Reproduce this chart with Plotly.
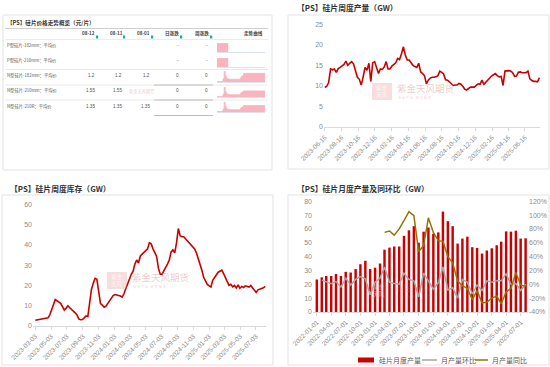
import plotly.graph_objects as go
import pandas as pd

W, H = 550, 367


def px(x):
    return x / W


def py(y):
    return 1 - y / H


# ---------------- data ----------------
weekly_output_start = "2023-06-16"
weekly_output = [9.6, 9.9, 10.8, 14.1, 13.9, 14.1, 13.3, 14.2, 14.5, 14.8,
                 15.2, 16.0, 15.0, 15.5, 15.9, 15.3, 13.8, 12.1, 11.6, 10.2,
                 12.2, 14.5, 13.8, 15.5, 11.1, 15.6, 15.9, 14.2, 13.0, 14.1,
                 14.0, 14.6, 15.9, 14.1, 14.1, 14.8, 15.2, 15.6, 16.7, 16.4,
                 17.8, 19.5, 17.5, 16.3, 16.3, 15.5, 15.0, 14.7, 14.5, 15.5,
                 13.4, 13.0, 12.5, 10.5, 11.4, 11.9, 12.1, 12.1, 12.2, 12.5,
                 13.6, 13.3, 12.9, 11.5, 11.4, 11.0, 10.5, 10.1, 10.2, 10.2,
                 10.6, 10.4, 9.9, 9.2, 9.0, 9.4, 9.7, 9.7, 9.7, 10.1,
                 10.5, 10.4, 11.4, 10.4, 10.9, 11.4, 12.0, 12.4, 12.7, 13.0,
                 12.5, 12.2, 12.3, 10.1, 13.6, 13.7, 13.7, 13.6, 13.2, 12.3,
                 12.4, 13.3, 13.4, 13.2, 13.2, 13.2, 13.6, 11.7, 11.3, 11.1,
                 11.1, 11.0, 12.0]

weekly_inventory_start = "2023-03-03"
weekly_inventory = [2.8, 3.0, 3.2, 3.5, 3.7, 3.6, 3.8, 4.0, 5.5, 8.5,
                    10.5, 13.0, 12.3, 11.8, 11.2, 9.5, 7.8, 8.8, 10.0, 9.0,
                    8.3, 7.5, 6.5, 5.5, 3.5, 3.1, 3.2, 4.0, 5.0, 4.6,
                    13.0, 18.0, 21.0, 23.5, 23.0, 16.0, 11.0, 10.3, 9.3, 9.8,
                    11.0, 12.0, 13.5, 15.0, 15.5, 15.4, 15.0, 14.8, 14.2, 16.0,
                    18.5, 21.5, 24.0, 25.5, 27.0, 30.5, 32.5, 31.0, 34.5, 35.5,
                    36.3, 37.0, 38.0, 41.0, 40.5, 38.0, 36.0, 34.3, 28.5, 25.5,
                    25.5, 27.0, 28.5, 30.5, 32.5, 36.5, 37.5, 36.0, 41.0, 48.0,
                    44.5, 44.0, 44.0, 43.0, 42.2, 41.3, 40.3, 39.5, 38.0, 36.0,
                    33.5, 30.0, 27.5, 24.0, 21.8, 20.5, 19.8, 19.2, 22.5, 24.0,
                    25.5, 26.5, 27.0, 27.5, 25.8, 24.0, 22.2, 20.0, 20.5, 19.3,
                    20.0, 18.7, 20.3, 18.6, 19.5, 19.0, 19.8, 19.5, 19.2, 20.0,
                    19.0, 18.0, 16.5, 17.8, 18.0, 18.5, 18.8, 19.5]

monthly_start = "2022-01-01"
monthly_output = [23.5, 25, 26, 26, 27.5, 26, 29, 28.5, 31, 34.5, 37, 31,
                  32, 35, 45, 46.5, 47.3, 47.3, 55, 59, 62, 50, 58, 61,
                  56.5, 57.5, 72.5, 65.6, 62, 49.4, 53, 54.4, 46.8, 46.3, 42.2, 44.4,
                  46, 48.2, 50.8, 58.2, 58, 58.7, 53, 53.2]
mom_pct = [None, 6, 4, 1, 4, -4, 9, -1, 7, 11, 8, -15,
           3, 9, 25, 3, 1, 0, 16, 7, 5, -18, 16, 5,
           -7, 2, 25, -8, -5, -20, 7, 3, -14, -1, -9, 5,
           3, 5, 5, 15, 0, 1, -9, 0]
yoy_pct = [None] * 14 + [75, 77, 71, 80, 92, 105, 99, 47, 56, 96,
                         75, 63, 62, 40, 31, 5, -2, -6, -22, -9, -27, -26,
                         -20, -17, -28, -11, -6, 17, -1, -3]

legend_names = ["硅片月度产量", "月产量环比", "月产量同比"]

# axis tick values
out_ticks = [0, 5, 10, 15, 20, 25]
inv_ticks = [0, 10, 20, 30, 40, 50, 60]
bar_ticks = [0, 10, 20, 30, 40, 50, 60, 70, 80]
pct_ticks = [-40, -20, 0, 20, 40, 60, 80, 100, 120]

# price table
table_title = "【PS】硅片价格走势概览（元/片）"
table_headers = ["08-12", "08-11", "08-01", "日涨跌", "周涨跌"]
table_spark_header = "走势曲线"
table_rows = ["P型硅片-182mm：平均价", "P型硅片-210mm：平均价",
              "N型硅片-182mm：平均价", "N型硅片-210mm：平均价",
              "N型硅片-210R：平均价"]
table_values = [["", "", "", "-", "-"],
                ["", "", "", "-", "-"],
                ["1.2", "1.2", "1.2", "0", "0"],
                ["1.55", "1.55", "", "0", "0"],
                ["1.35", "1.35", "1.35", "0", "0"]]
spark_p182 = [1, 1, 1, 1, 1, 1, 1, 1, 1, 1, 1, 1]
spark_p210 = [1, 1, 1, 1, 1, 1, 1, 1, 1, 1, 1, 1]
spark_n182 = [0.05, 0.05, 0.05, 0.05, 0.05, 0.08, 0.3, 1.0, 0.6, 0.38, 0.3, 0.27,
              0.26, 0.26, 0.26, 0.26, 0.26, 0.26, 0.26, 0.26, 0.26, 0.26, 0.26,
              0.4, 0.55, 0.55, 0.8, 0.8, 0.8, 0.8, 0.8, 0.8, 0.8, 0.8, 0.8, 0.8,
              0.8, 0.8, 0.8, 0.8, 0.8, 0.8, 0.8, 0.8, 0.8, 0.8, 0.8, 0.8]
spark_n210 = [0.05, 0.05, 0.05, 0.05, 0.05, 0.08, 0.3, 1.0, 0.55, 0.35, 0.28, 0.25,
              0.24, 0.24, 0.24, 0.24, 0.24, 0.24, 0.24, 0.24, 0.24, 0.24, 0.24,
              0.4, 0.5, 0.5, 0.62, 0.62, 0.62, 0.62, 0.62, 0.62, 0.62, 0.62, 0.62,
              0.62, 0.62, 0.62, 0.62, 0.62, 0.62, 0.62, 0.62, 0.62, 0.62, 0.62, 0.62, 0.62]
spark_n210r = [0.05, 0.05, 0.05, 0.05, 0.05, 0.08, 0.3, 1.0, 0.55, 0.35, 0.28, 0.25,
               0.24, 0.24, 0.24, 0.24, 0.24, 0.24, 0.24, 0.24, 0.24, 0.24, 0.24,
               0.4, 0.5, 0.5, 0.66, 0.66, 0.66, 0.66, 0.66, 0.66, 0.66, 0.66, 0.66,
               0.66, 0.66, 0.66, 0.66, 0.66, 0.66, 0.66, 0.66, 0.66, 0.66, 0.66, 0.66, 0.66]
spark_series = [spark_p182, spark_p210, spark_n182, spark_n210, spark_n210r]

# ---------------- style ----------------
RED = "#C80000"
BAR_RED = "#CC0000"
GRAY = "#A6A6A6"
OLIVE = "#957300"
TICK = "#8C8C8C"
PINK = "#F9B4BF"
CJK = "Noto Sans CJK SC"
TFONT = "Liberation Sans"

fig = go.Figure()

# top-right: weekly output
d_out = pd.date_range(weekly_output_start, periods=len(weekly_output), freq="7D")
fig.add_trace(go.Scatter(x=d_out, y=weekly_output, mode="lines",
                         line=dict(color=RED, width=1.6), xaxis="x", yaxis="y",
                         hoverinfo="skip"))

# bottom-left: weekly inventory
d_inv = pd.date_range(weekly_inventory_start, periods=len(weekly_inventory), freq="7D")
fig.add_trace(go.Scatter(x=d_inv, y=weekly_inventory, mode="lines",
                         line=dict(color=RED, width=1.6), xaxis="x2", yaxis="y2",
                         hoverinfo="skip"))

# bottom-right: monthly output + mom/yoy
d_m = pd.date_range(monthly_start, periods=len(monthly_output), freq="MS")
fig.add_trace(go.Bar(x=d_m, y=monthly_output, marker=dict(color=BAR_RED, line=dict(width=0)),
                     xaxis="x3", yaxis="y3", name=legend_names[0], hoverinfo="skip"))
fig.add_trace(go.Scatter(x=d_m, y=mom_pct, mode="lines", line=dict(color=GRAY, width=1.5),
                         xaxis="x3", yaxis="y4", name=legend_names[1], hoverinfo="skip"))
fig.add_trace(go.Scatter(x=d_m, y=yoy_pct, mode="lines", line=dict(color=OLIVE, width=1.5),
                         xaxis="x3", yaxis="y4", name=legend_names[2], hoverinfo="skip"))

# sparklines
for i, s in enumerate(spark_series):
    n = i + 5
    fig.add_trace(go.Scatter(x=list(range(len(s))), y=s, mode="lines", fill="tozeroy",
                             line=dict(color=PINK, width=0.8, shape="hv"),
                             fillcolor=PINK, xaxis=f"x{n}", yaxis=f"y{n}",
                             hoverinfo="skip"))


def date_axis(dom, rng, tick0, dtick, anchor):
    return dict(type="date", domain=dom, range=rng, tick0=tick0, dtick=dtick,
                tickformat="%Y-%m-%d", tickangle=-45,
                tickfont=dict(size=6.5, color=TICK, family=TFONT),
                showgrid=False, showline=True, linecolor="#D9D9D9", linewidth=1,
                ticks="outside", ticklen=3, tickcolor="#D9D9D9", zeroline=False,
                anchor=anchor, fixedrange=True, automargin=False,
                ticklabeloverflow="allow")


def val_axis(dom, rng, tickvals, anchor, suffix=""):
    d = dict(domain=dom, range=rng, tickmode="array", tickvals=tickvals,
             ticktext=[f"{v}{suffix}" for v in tickvals],
             showgrid=False, showline=False, zeroline=False,
             tickfont=dict(size=7, color=TICK, family=TFONT),
             ticks="", anchor=anchor, fixedrange=True, automargin=False,
             ticklabeloverflow="allow")
    return d


y4 = val_axis([py(312), py(201)], [-40, 120.3], pct_ticks, "x3", suffix="%")
y4.update(overlaying="y3", side="right")

layout = dict(
    width=W, height=H, autosize=False,
    margin=dict(l=0, r=0, t=0, b=0, pad=0),
    paper_bgcolor="white", plot_bgcolor="white",
    showlegend=False, bargap=0.45,
    xaxis=date_axis([px(324), px(540)], ["2023-06-13", "2025-08-10"], "2023-06-16", "M2", "y"),
    yaxis=val_axis([py(127), py(24)], [0, 25.05], out_ticks, "x"),
    xaxis2=date_axis([px(33), px(266)], ["2023-02-22", "2025-08-11"], "2023-03-03", "M2", "y2"),
    yaxis2=val_axis([py(326), py(204)], [0, 60.1], inv_ticks, "x2"),
    xaxis3=date_axis([px(313), px(528)], ["2021-12-08", "2025-08-16"], "2022-01-01", "M3", "y3"),
    yaxis3=val_axis([py(312), py(201)], [0, 80.15], bar_ticks, "x3"),
    yaxis4=y4,
)

spark_rows = [(52, 43), (67, 58), (82, 71), (97, 87), (112, 102)]
for i, (b, t) in enumerate(spark_rows):
    n = i + 5
    layout[f"xaxis{n}"] = dict(domain=[px(217), px(265)], range=[0, 47], visible=True,
                               showticklabels=False, showgrid=False, zeroline=False,
                               showline=True, linecolor="#DDE3EE", linewidth=1, ticks="",
                               anchor=f"y{n}", fixedrange=True, automargin=False)
    layout[f"yaxis{n}"] = dict(domain=[py(b), py(t)], range=[0, 1.02], visible=False,
                               anchor=f"x{n}", fixedrange=True, automargin=False)

fig.update_layout(**layout)

shapes = []
annotations = []


def box(x0, y0, x1, y1, color="#E3E3E3"):
    shapes.append(dict(type="rect", xref="paper", yref="paper", x0=px(x0), x1=px(x1),
                       y0=py(y1), y1=py(y0), line=dict(color=color, width=1),
                       fillcolor="rgba(0,0,0,0)", layer="below"))


def hline(x0, x1, y, color, width=1):
    shapes.append(dict(type="line", xref="paper", yref="paper", x0=px(x0), x1=px(x1),
                       y0=py(y), y1=py(y), line=dict(color=color, width=width)))


def text(x, y, s, size, color, xanchor="left", bold=False, family=CJK):
    f = dict(size=size, color=color, family=family)
    if bold:
        f["weight"] = "bold"
    annotations.append(dict(x=px(x), y=py(y), xref="paper", yref="paper", text=s,
                            showarrow=False, xanchor=xanchor, yanchor="middle",
                            font=f))


# panel boxes
box(3, 15, 272, 170)
box(288, 15, 549, 169)
box(2, 195, 273, 365)
box(288, 195, 549, 365)

# titles
text(5, 23, table_title, 5.6, "#333333", bold=True)
text(295, 8, "【PS】硅片周度产量（GW）", 7.8, "#333333", bold=True)
text(8, 188, "【PS】硅片周度库存（GW）", 7.8, "#333333", bold=True)
text(295, 188, "【PS】硅片月度产量及同环比（GW）", 7.8, "#333333", bold=True)

# table
hline(5, 268, 28.5, "#D0D0D0")
hline(5, 268, 39.5, "#ECECEC")
hx = [88, 116, 143, 172, 202]
for x, h in zip(hx, table_headers):
    text(x, 33, h, 4.6, "#444444", xanchor="center", bold=True)
sq_x = [97, 124, 152, 181, 211]
for x in sq_x:
    shapes.append(dict(type="rect", xref="paper", yref="paper", x0=px(x - 1), x1=px(x + 1.2),
                       y0=py(38.5), y1=py(35.5), line=dict(width=0), fillcolor="#1AAF9B"))
text(265, 33, table_spark_header, 4.6, "#444444", xanchor="right", bold=True)
row_y = [45, 60.5, 75.5, 90.5, 106]
col_x = [97, 124.5, 152, 181, 210]
for ry, lab, vals in zip(row_y, table_rows, table_values):
    text(5, ry, lab, 4.3, "#555555")
    for cx, v in zip(col_x, vals):
        if v:
            text(cx, ry, v, 4.6, "#555555", xanchor="right", family=TFONT)
hline(5, 268, 69.5, "#EAEAEA")
hline(5, 268, 85, "#EAEAEA")
hline(5, 268, 100, "#EAEAEA")
for yy in (85, 100, 115.5):
    hline(154, 213, yy, "#BDBDBD")
text(127, 91, "紫金天风期货", 4.2, "rgba(200,120,120,0.4)")


# watermarks
def watermark(x, y, size=9.5, alpha=0.45):
    shapes.append(dict(type="rect", xref="paper", yref="paper", x0=px(x - 23), x1=px(x - 3),
                       y0=py(y + 12), y1=py(y - 5), line=dict(width=0),
                       fillcolor=f"rgba(225,130,130,{alpha * 0.6})", layer="above"))
    text(x - 13, y + 3.5, "紫金<br>天风", 5.5, f"rgba(255,255,255,{alpha + 0.3})",
         xanchor="center")
    text(x, y, "紫金天风期货", size, f"rgba(215,140,140,{alpha})")
    text(x + 1, y + 9, "专 业 产 业   研 究 服 务", 3.3, f"rgba(215,150,150,{alpha})")


watermark(395, 88)
watermark(130, 277)
watermark(392, 287, alpha=0.2)

# manual legend bottom-right
shapes.append(dict(type="rect", xref="paper", yref="paper", x0=px(358), x1=px(374),
                   y0=py(362.5), y1=py(357.5), line=dict(width=0), fillcolor=BAR_RED))
text(377, 360, legend_names[0], 7, "#595959")
hline(422, 437, 360, GRAY, 1.5)
text(439, 360, legend_names[1], 7, "#595959")
hline(475, 488, 360, OLIVE, 1.5)
text(490, 360, legend_names[2], 7, "#595959")

fig.update_layout(shapes=shapes, annotations=annotations)

fig.write_html("out.html",
               config={"displayModeBar": False, "staticPlot": True},
               post_script="document.body.style.margin='0px';"
                           "document.body.style.overflow='hidden';")
